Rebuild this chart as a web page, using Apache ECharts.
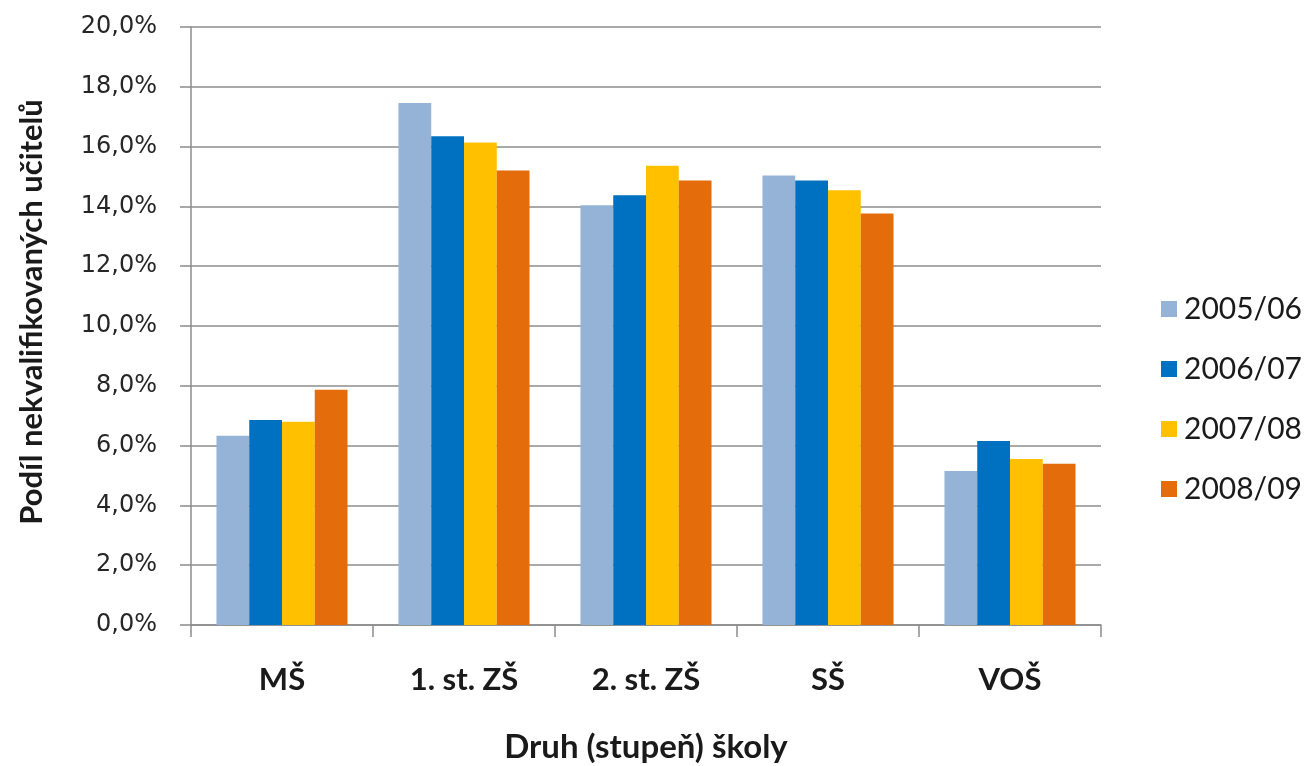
<!DOCTYPE html>
<html>
<head>
<meta charset="utf-8">
<script src="https://cdn.jsdelivr.net/npm/echarts@6/dist/echarts.min.js"></script>
<style>
  html, body { margin: 0; padding: 0; background: #fff; }
  #chart { width: 1307px; height: 766px; }
</style>
</head>
<body>
<div id="chart"></div>
<script>
const categories = ['MŠ', '1. st. ZŠ', '2. st. ZŠ', 'SŠ', 'VOŠ']
const years = ['2005/06', '2006/07', '2007/08', '2008/09']
const colors = ['#95B3D7', '#0070C0', '#FFC000', '#E46C0A']

// podíl nekvalifikovaných učitelů v %
const share0506 = [6.33, 17.46, 14.04, 15.03, 5.15]
const share0607 = [6.86, 16.35, 14.37, 14.87, 6.15]
const share0708 = [6.80, 16.14, 15.36, 14.54, 5.55]
const share0809 = [7.87, 15.20, 14.87, 13.76, 5.39]

const yTicks = { min: 0, max: 20, interval: 2 }

const seriesData = [share0506, share0607, share0708, share0809]

const axisColor = '#8c8c8c'
const bodyFont = 'Lato'

const chart = echarts.init(document.getElementById('chart'))

chart.setOption({
  animation: false,
  backgroundColor: '#fff',
  grid: { left: 191, right: 206, top: 27, bottom: 141, outerBoundsMode: 'none' },
  legend: {
    orient: 'vertical',
    left: 1156,
    top: 289,
    itemWidth: 16,
    itemHeight: 16,
    itemGap: 30,
    icon: 'rect',
    textStyle: { fontFamily: bodyFont, fontSize: 30, color: '#1a1a1a', padding: [0, 0, 0, 2] },
    data: years,
  },
  xAxis: {
    type: 'category',
    data: categories,
    name: 'Druh (stupeň) školy',
    nameLocation: 'middle',
    nameGap: 106,
    nameTextStyle: { fontFamily: bodyFont, fontWeight: 'bold', fontSize: 33, color: '#1a1a1a' },
    axisLine: { lineStyle: { color: axisColor, width: 1.5 } },
    axisTick: { show: true, length: 12, lineStyle: { color: axisColor, width: 1.5 } },
    axisLabel: { fontFamily: bodyFont, fontWeight: 'bold', fontSize: 31, color: '#1a1a1a', margin: 39 },
  },
  yAxis: {
    type: 'value',
    min: yTicks.min,
    max: yTicks.max,
    interval: yTicks.interval,
    name: 'Podíl nekvalifikovaných učitelů',
    nameLocation: 'middle',
    nameRotate: 90,
    nameGap: 144,
    nameTextStyle: { fontFamily: bodyFont, fontWeight: 'bold', fontSize: 31, color: '#1a1a1a', padding: [0, 0, 0, 28] },
    axisLine: { show: true, lineStyle: { color: axisColor, width: 1.5 } },
    axisTick: { show: true, length: 11, lineStyle: { color: axisColor, width: 1.5 } },
    axisLabel: {
      fontFamily: 'DejaVu Sans',
      fontSize: 24,
      color: '#262626',
      margin: 34,
      formatter: v => v.toFixed(1).replace('.', ',') + '%',
    },
    splitLine: { lineStyle: { color: axisColor, width: 1.5 } },
  },
  series: years.map((year, i) => ({
    name: year,
    type: 'bar',
    data: seriesData[i],
    barGap: '0%',
    barCategoryGap: '28%',
    itemStyle: { color: colors[i] },
  })),
})
</script>
</body>
</html>
